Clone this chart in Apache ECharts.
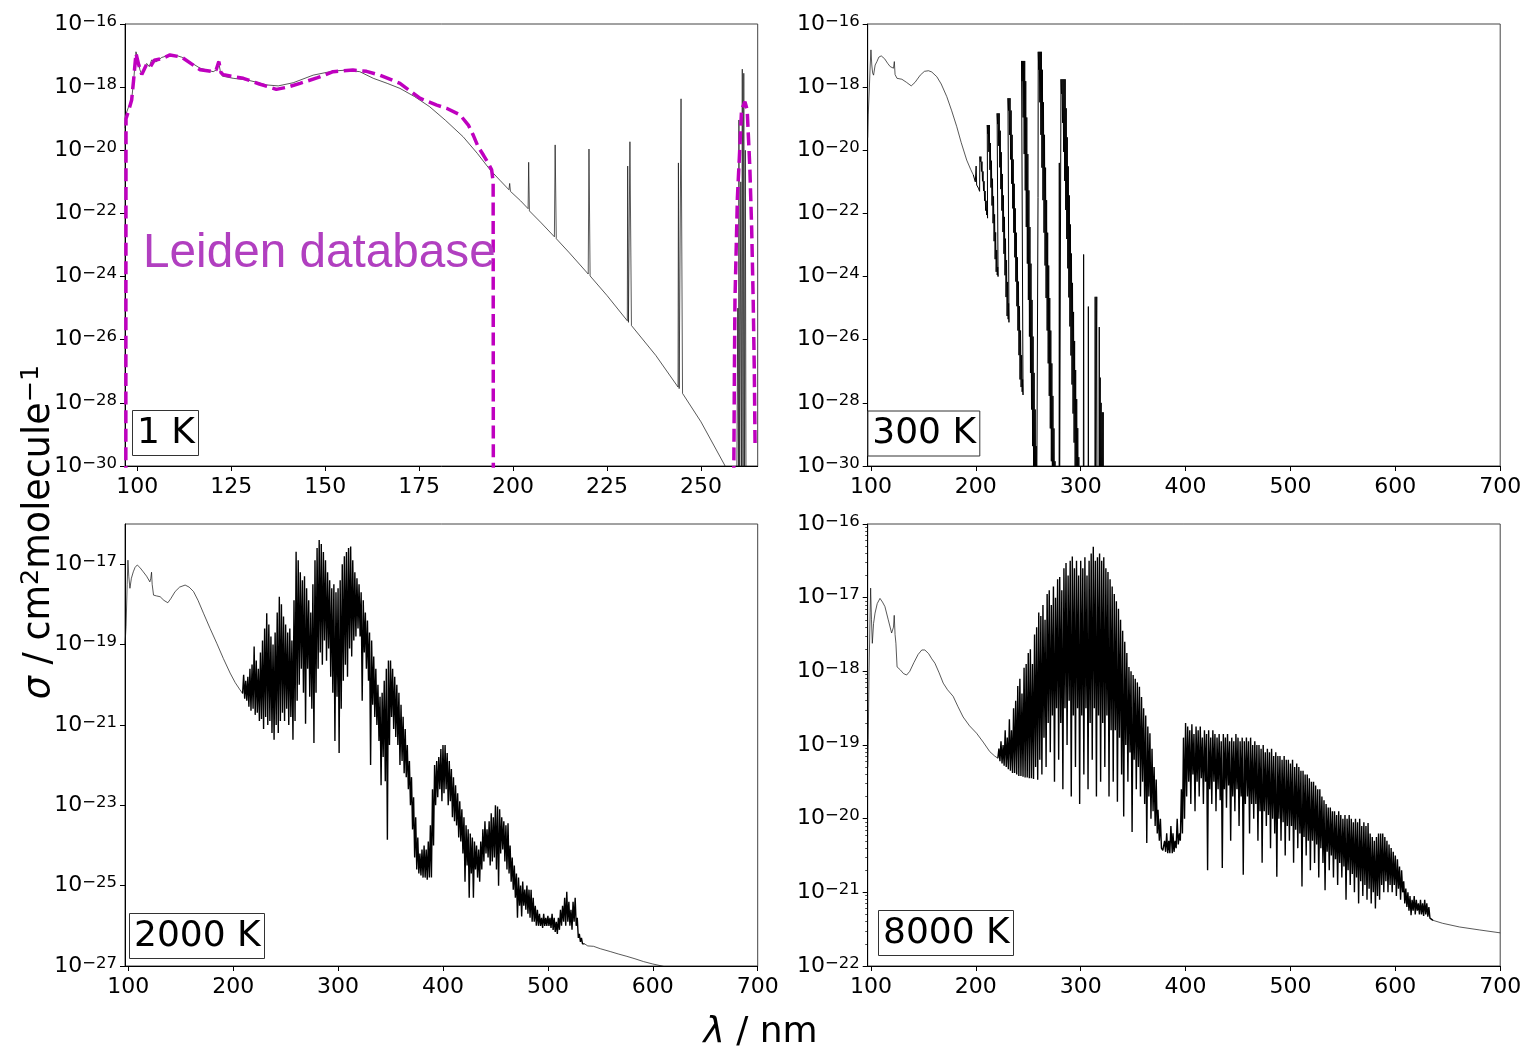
<!DOCTYPE html>
<html><head><meta charset="utf-8">
<script src="https://cdn.jsdelivr.net/npm/echarts@6/dist/echarts.min.js"></script>
<style>html,body{margin:0;padding:0;background:#fff}#c{width:1526px;height:1049px}#err{position:absolute;left:300px;top:300px;color:red;font:14px monospace;white-space:pre-wrap;width:900px}</style>
</head><body><div id="c"></div><div id="err"></div>
<script>
window.onerror = function(m,s,l,c,e){ document.getElementById('err').textContent += 'ERR: '+m+' @'+l+':'+c+'\n'; };
// ---- data: [wavelength nm, log10(sigma / cm^2 molecule^-1)] ----
const K1_LINE = [[96.75,-19.3],[97.0,-18.85],[97.6,-18.65],[98.5,-18.4],[99.1,-17.7],[99.65,-16.88],[100.2,-17.15],[100.7,-17.45],[101.2,-17.6],[101.9,-17.4],[102.5,-17.25],[103.2,-17.35],[103.8,-17.14],[105,-17.2],[106.5,-17.06],[108.7,-16.98],[110.5,-17.0],[111.8,-17.05],[114,-17.2],[116.7,-17.4],[120.2,-17.51],[121.1,-17.45],[121.6,-17.17],[122.1,-17.5],[122.6,-17.65],[125.5,-17.72],[129.1,-17.77],[132,-17.85],[134.4,-17.93],[137.5,-17.96],[141.5,-17.86],[146.8,-17.62],[152.1,-17.49],[155.7,-17.46],[159.2,-17.51],[162.8,-17.72],[166.5,-17.88],[169.9,-18.04],[173.8,-18.3],[177.8,-18.62],[182,-19.05],[186.7,-19.57],[190.5,-20.1],[193.9,-20.62],[196.5,-20.95],[198.9,-21.25],[199.1,-21.05],[199.3,-21.3],[202,-21.6],[204.0,-21.85],[204.15,-20.38],[204.35,-21.92],[207.5,-22.3],[211.0,-22.74],[211.2,-19.83],[211.5,-22.8],[215,-23.25],[220.0,-23.92],[220.2,-19.96],[220.5,-23.98],[225,-24.6],[230.4,-25.4],[230.5,-20.5],[230.7,-25.45],[231.1,-19.73],[231.5,-25.55],[238,-26.5],[243.9,-27.5],[244.0,-20.4],[244.2,-27.55],[244.7,-18.37],[245.1,-27.7],[250,-28.6],[256.3,-29.97],[258,-30.5],[259.5,-31],[259.8,-25],[260.0,-31],[260.1,-19.04],[260.3,-31],[260.6,-21],[260.8,-31],[261.0,-17.43],[261.2,-31],[261.4,-17.56],[261.6,-31],[261.8,-20],[262.0,-31],[265,-31]];
const K1_LEIDEN_A = [[96.95,-31],[96.97,-25],[97.0,-19.0],[97.8,-18.7],[98.5,-18.41],[99.0,-17.8],[99.65,-16.93],[100.4,-17.3],[101.2,-17.6],[102.5,-17.27],[103.5,-17.35],[104.5,-17.15],[106.5,-17.1],[108.7,-16.98],[111.8,-17.05],[116.7,-17.45],[120.2,-17.51],[121.0,-17.45],[121.7,-17.19],[122.3,-17.55],[123,-17.61],[128.2,-17.72],[132.5,-17.9],[137,-18.07],[140,-18.0],[143.3,-17.88],[148,-17.7],[152.1,-17.51],[157.4,-17.46],[161,-17.5],[164.6,-17.62],[169.9,-17.88],[175.2,-18.35],[179.7,-18.57],[182.3,-18.67],[185.9,-18.88],[188.1,-19.2],[189.4,-19.52],[190.7,-19.89],[192.1,-20.15],[193.4,-20.41],[194.3,-20.62],[194.7,-21.0],[194.75,-31]];
const K1_LEIDEN_B = [[258.7,-31],[258.9,-27],[259.05,-24.75],[259.7,-21.5],[260.4,-19.78],[260.8,-18.72],[261.7,-18.46],[262.3,-18.72],[263.0,-20.52],[263.5,-22.5],[263.9,-24.75],[264.2,-27],[264.4,-29.37]];

const K300_SMOOTH = [[96.9,-19.6],[97.4,-18.88],[98.5,-18.0],[99.3,-17.3],[100,-16.82],[100.8,-17.3],[101.6,-17.55],[102.5,-17.62],[104,-17.3],[105.7,-17.19],[107.5,-17.05],[109.8,-17.01],[113,-17.1],[116,-17.25],[118.4,-17.35],[121.5,-17.4],[122.3,-17.19],[123,-17.6],[124.8,-17.72],[129.5,-17.75],[134,-17.85],[138.4,-17.96],[142,-17.85],[147,-17.62],[151,-17.5],[154.9,-17.48],[158,-17.52],[162.8,-17.67],[167,-17.9],[172.3,-18.3],[177,-18.75],[181.8,-19.25],[186,-19.75],[191.3,-20.31],[195,-20.6],[197.6,-20.78]];
// vibrational bands: line peaks alternate between the upper and lower edge of each band's slanted streak
const K300_BANDS = [[197.6,-20.78],[199.5,-21.0],[200.3,-20.5],[200.8,-21.1],[202.5,-21.2],[203.6,-21.3],
[203.85,-20.2],[204.35,-20.36],[204.85,-20.2],[205.35,-20.67],[205.85,-20.36],[206.35,-20.98],[206.85,-20.67],[207.35,-21.29],[207.85,-20.98],[208.35,-21.6],[208.85,-21.29],[209.35,-21.91],[209.85,-21.6],[210.35,-22.05],[210.85,-21.91],[211.2,-22.15],
[210.9,-19.2],[211.4,-19.48],[211.9,-19.2],[212.4,-20.05],[212.9,-19.2],[213.4,-20.62],[213.9,-19.77],[214.4,-21.18],[214.9,-20.33],[215.4,-21.75],[215.9,-20.9],[216.4,-22.31],[216.9,-21.46],[217.4,-22.88],[217.9,-22.03],[218.4,-23.45],[218.9,-22.6],[219.4,-23.85],[219.9,-23.16],[220.4,-23.95],[220.9,-23.7],[221.2,-24.0],
[220.3,-18.83],[220.8,-19.17],[221.3,-18.83],[221.8,-19.86],[222.3,-18.83],[222.8,-20.54],[223.3,-19.38],[223.8,-21.23],[224.3,-20.06],[224.8,-21.91],[225.3,-20.75],[225.8,-22.59],[226.3,-21.43],[226.8,-23.28],[227.3,-22.11],[227.8,-23.96],[228.3,-22.8],[228.8,-24.65],[229.3,-23.48],[229.8,-25.25],[230.3,-24.17],[230.8,-25.35],[231.3,-24.85],[231.6,-25.45],
[230.65,-18.35],[231.15,-18.74],[231.65,-18.35],[232.15,-19.51],[232.65,-18.35],[233.15,-20.29],[233.65,-18.74],[234.15,-21.06],[234.65,-19.51],[235.15,-21.84],[235.65,-20.29],[236.15,-22.61],[236.65,-21.06],[237.15,-23.39],[237.65,-21.84],[238.15,-24.16],[238.65,-22.61],[239.15,-24.94],[239.65,-23.39],[240.15,-25.71],[240.65,-24.16],[241.15,-26.49],[241.65,-24.94],[242.15,-27.26],[242.65,-25.71],[243.15,-27.5],[243.65,-26.49],[244.15,-27.65],[244.65,-27.26],[245.0,-27.75],
[243.6,-17.17],[244.1,-17.81],[244.6,-17.17],[245.1,-18.96],[245.6,-17.17],[246.1,-20.12],[246.6,-17.17],[247.1,-21.27],[247.6,-17.81],[248.1,-22.43],[248.6,-18.96],[249.1,-23.59],[249.6,-20.12],[250.1,-24.74],[250.6,-21.27],[251.1,-25.9],[251.6,-22.43],[252.1,-27.05],[252.6,-23.59],[253.1,-28.21],[253.6,-24.74],[254.1,-29.37],[254.6,-25.9],[255.1,-30.52],[255.6,-27.05],[256.1,-31],[256.6,-28.21],[257.1,-31],[257.6,-29.37],[258.1,-31],
[259.0,-31],[259.3,-21.5],[259.5,-16.88],[260.0,-17.45],[260.5,-16.88],[261.0,-18.48],[261.5,-16.88],[262.0,-19.51],[262.5,-16.88],[263.0,-20.55],[263.5,-17.45],[264.0,-21.58],[264.5,-18.48],[265.0,-22.61],[265.5,-19.51],[266.0,-23.65],[266.5,-20.55],[267.0,-24.68],[267.5,-21.58],[268.0,-25.71],[268.5,-22.61],[269.0,-26.75],[269.5,-23.65],[270.0,-27.78],[270.5,-24.68],[271.0,-28.81],[271.5,-25.71],[272.0,-29.85],[272.5,-26.75],[273.0,-31],[273.5,-27.78],[274.0,-31],[274.5,-28.81],[275.0,-31],[275.5,-29.85],[276.0,-31],
[279.4,-31],[279.6,-20.4],[279.9,-31],
[281.2,-17.75],[281.7,-18.21],[282.2,-17.75],[282.7,-19.13],[283.2,-17.75],[283.7,-20.05],[284.2,-17.75],[284.7,-20.97],[285.2,-17.75],[285.7,-21.89],[286.2,-18.67],[286.7,-22.81],[287.2,-19.59],[287.7,-23.74],[288.2,-20.51],[288.7,-24.66],[289.2,-21.43],[289.7,-25.58],[290.2,-22.35],[290.7,-26.5],[291.2,-23.27],[291.7,-27.42],[292.2,-24.2],[292.7,-28.34],[293.2,-25.12],[293.7,-29.26],[294.2,-26.04],[294.7,-30.18],[295.2,-26.96],[295.7,-31],[296.2,-27.88],[296.7,-31],[297.2,-28.8],[297.7,-31],[298.2,-29.72],[298.7,-31],
[302.5,-31],[302.8,-23.3],[303.1,-31],[307.1,-31],[307.3,-24.95],[307.5,-31],[313.6,-31],[313.8,-24.64],[314.0,-31],[315.1,-31],[315.3,-24.64],[315.5,-31],[317.5,-31],[317.7,-25.6],[317.9,-31],[318.4,-31],[318.6,-27.2],[318.8,-31],[319.3,-31],[319.5,-28.0],[319.7,-31],[320.3,-31],[320.5,-28.3],[320.7,-31],[321.3,-31],[321.5,-28.3],[321.7,-31],[330,-31]];

const K2000_START = [[96.9,-19.0],[97.9,-18.55],[99.0,-17.5],[99.7,-16.9],[100.5,-17.3],[101.6,-17.6],[103,-17.35],[104.8,-17.19],[106.5,-17.08],[108.6,-17.02],[111,-17.08],[114.3,-17.19],[117.5,-17.3],[120.6,-17.44],[121.5,-17.35],[122.2,-17.2],[122.8,-17.5],[124.1,-17.77],[127,-17.79],[130.4,-17.81],[134,-17.9],[137.7,-17.96],[140.5,-17.86],[144.7,-17.68],[149,-17.57],[154.2,-17.52],[158,-17.57],[162.2,-17.68],[166.5,-17.9],[171.7,-18.22],[178,-18.6],[184.4,-18.97],[190.7,-19.35],[197.1,-19.71],[202,-19.95],[206.6,-20.13],[209,-20.22]];
// dense region: pairs [upper, lower] at 2 nm steps (upper at the even nm, lower at the next nm)
const K2000_DENSE_START = 210;
const K2000_DENSE = [[-19.75,-20.35],[-19.9,-20.4],[-19.8,-20.55],[-19.6,-20.65],[-19.5,-20.6],[-19.05,-20.75],[-19.4,-20.7],[-19.6,-20.9],[-19.2,-20.85],[-18.9,-21.1],[-18.6,-20.8],[-18.22,-21.0],[-18.5,-20.9],[-18.8,-21.2],[-19.0,-21.37],[-18.7,-21.0],[-18.2,-21.2],[-17.81,-20.9],[-18.0,-20.7],[-18.3,-20.9],[-18.5,-20.6],[-18.7,-21.0],[-18.6,-20.8],[-18.9,-21.37],[-17.9,-20.9],[-16.69,-20.4],[-16.9,-20.0],[-17.2,-19.6],[-17.4,-20.2],[-17.3,-20.97],[-17.6,-19.6],[-17.9,-20.3],[-18.2,-20.6],[-17.5,-21.45],[-16.9,-20.2],[-16.6,-19.6],[-16.4,-19.2],[-16.5,-19.5],[-16.7,-18.9],[-16.9,-19.4],[-17.2,-19.1],[-17.4,-19.8],[-17.6,-20.2],[-17.5,-21.4],[-17.7,-20.3],[-17.6,-21.7],[-17.4,-20.6],[-17.0,-19.9],[-16.8,-19.5],[-16.7,-19.8],[-16.6,-19.1],[-16.56,-19.3],[-16.9,-18.9],[-17.2,-18.8],[-17.35,-18.6],[-17.5,-18.8],[-17.7,-20.4],[-17.9,-19.2],[-18.2,-19.6],[-18.4,-19.9],[-18.7,-22.0],[-18.9,-20.5],[-19.3,-20.8],[-19.6,-21.0],[-20.0,-21.4],[-20.3,-22.5],[-20.2,-21.8],[-19.9,-22.4],[-19.6,-23.86],[-19.4,-21.5],[-19.4,-20.8],[-19.6,-21.1],[-19.8,-21.3],[-20.0,-21.5],[-20.2,-22.0],[-20.5,-21.9],[-20.8,-22.2],[-21.1,-22.3],[-21.5,-22.6],[-21.9,-23.0],[-22.3,-23.6],[-22.8,-24.3],[-23.3,-24.6],[-23.8,-24.7],[-24.2,-24.75],[-24.1,-24.8],[-24.0,-24.8],[-24.1,-24.85],[-23.9,-24.8],[-23.5,-24.8],[-22.6,-24.0],[-22.0,-23.0],[-21.9,-22.8],[-21.8,-22.6],[-21.6,-22.9],[-21.5,-22.7],[-21.5,-22.6],[-21.7,-23.0],[-21.9,-22.9],[-22.1,-23.3],[-22.3,-23.4],[-22.5,-23.5],[-22.7,-23.8],[-22.9,-23.9],[-23.1,-24.2],[-23.3,-24.9],[-23.5,-24.5],[-23.6,-25.3],[-23.7,-24.7],[-23.8,-25.3],[-23.9,-24.6],[-24.0,-24.8],[-24.1,-24.9],[-23.9,-24.6],[-23.6,-24.4],[-23.4,-24.2],[-23.6,-24.3],[-23.4,-24.5],[-23.2,-24.4],[-23.3,-24.3],[-23.0,-24.6],[-23.03,-25.0],[-23.1,-24.2],[-23.3,-24.1],[-23.4,-24.4],[-23.5,-24.6],[-23.45,-24.7],[-24.0,-24.9],[-24.3,-25.1],[-24.5,-25.3],[-24.7,-25.8],[-24.8,-25.5],[-25.0,-25.77],[-24.9,-25.5],[-25.1,-25.6],[-25.0,-25.7],[-25.1,-25.8],[-25.1,-25.9],[-25.3,-25.9],[-25.5,-26.0],[-25.6,-26.0],[-25.7,-26.0],[-25.8,-26.05],[-25.7,-26.0],[-25.8,-26.0],[-25.75,-26.0],[-25.8,-26.05],[-25.7,-26.1],[-25.8,-26.15],[-25.9,-26.2],[-25.8,-26.1],[-25.6,-26.0],[-25.5,-25.9],[-25.3,-26.0],[-25.15,-25.9],[-25.4,-26.0],[-25.6,-26.1],[-25.4,-25.9],[-25.3,-26.0],[-25.8,-26.3],[-26.2,-26.4],[-26.3,-26.45]];
const K2000_TAIL = [[535,-26.45],[538,-26.5],[543.5,-26.51],[550,-26.57],[559.4,-26.64],[567,-26.7],[575.3,-26.76],[583,-26.82],[591.2,-26.89],[600,-26.95],[608.7,-27.0],[620,-27.08],[650,-27.25],[700,-27.5]];

const K8000_START = [[96.95,-19.3],[97.4,-18.93],[98.2,-18.0],[99.2,-17.2],[99.7,-16.87],[100.5,-17.3],[101.3,-17.62],[102.5,-17.35],[103.9,-17.21],[106,-17.08],[108.6,-17.01],[111,-17.06],[113.3,-17.12],[116.5,-17.3],[119.7,-17.48],[121.5,-17.4],[122.2,-17.24],[123,-17.5],[123.8,-17.62],[124.4,-17.62],[124.9,-17.94],[128,-17.98],[131,-18.03],[134,-18.05],[137,-18.0],[141,-17.88],[145,-17.77],[148.5,-17.71],[151.4,-17.71],[155,-17.76],[158,-17.83],[161,-17.89],[165,-18.02],[168.9,-18.16],[173,-18.25],[178.4,-18.34],[183,-18.48],[187.9,-18.62],[194,-18.74],[200.7,-18.84],[207,-18.96],[213.3,-19.09],[218,-19.15],[221,-19.18]];
const K8000_DENSE1_START = 222;
const K8000_DENSE1 = [[-19.05,-19.22],[-18.95,-19.25],[-19.0,-19.28],[-18.8,-19.3],[-18.9,-19.33],[-18.65,-19.35],[-18.8,-19.38],[-18.5,-19.38],[-18.4,-19.4],[-18.2,-19.42],[-18.1,-19.42],[-18.3,-19.43],[-17.95,-19.44],[-17.9,-19.44],[-17.75,-19.45],[-17.7,-19.45],[-17.9,-19.46],[-17.5,-19.3],[-17.4,-19.47],[-17.2,-19.2],[-17.25,-19.4],[-17.1,-18.9],[-17.3,-19.3],[-16.95,-18.7],[-16.9,-19.1],[-17.1,-18.6],[-16.85,-19.5],[-17.0,-18.5],[-16.75,-19.2],[-16.72,-18.7],[-16.9,-19.6],[-16.6,-18.5],[-16.53,-19.0],[-16.7,-18.4],[-16.5,-19.7],[-16.44,-18.6],[-16.6,-19.3],[-16.5,-18.5],[-16.7,-19.8],[-16.5,-18.6],[-16.6,-19.4],[-16.45,-18.5],[-16.7,-19.6],[-16.5,-18.7],[-16.4,-19.2],[-16.31,-18.5],[-16.5,-19.7],[-16.45,-18.6],[-16.4,-19.5],[-16.5,-18.7],[-16.45,-19.3],[-16.6,-18.6],[-16.65,-19.7],[-16.75,-18.8],[-16.85,-19.5],[-16.95,-18.8],[-17.05,-19.77],[-17.15,-18.9],[-17.3,-19.4],[-17.45,-19.97],[-17.6,-19.0],[-17.75,-19.5],[-17.94,-19.1],[-18.0,-20.18],[-18.05,-19.2],[-18.1,-19.6],[-18.15,-19.3],[-18.21,-19.7],[-18.35,-19.5],[-18.5,-19.8],[-18.6,-20.33],[-18.75,-19.7],[-18.84,-20.0],[-19.05,-19.9],[-19.3,-20.1],[-19.47,-20.2]];
const K8000_GAP = [[373.7,-19.88],[375,-20.3],[376,-20.0],[377,-20.4],[378.3,-20.43],[380,-20.3],[381,-20.45],[382,-20.2],[383,-20.47],[384,-20.3],[385,-20.47],[386,-20.1],[387.3,-20.47],[388,-20.2],[389,-20.45],[390,-20.3],[391,-20.4],[392,-20.0],[393,-20.35],[394.2,-20.2],[395,-20.3]];
const K8000_DENSE2_START = 396;
const K8000_DENSE2 = [[-19.6,-20.2],[-18.9,-20.0],[-18.7,-19.7],[-18.75,-19.5],[-18.8,-19.8],[-18.72,-19.4],[-18.85,-19.9],[-18.75,-19.5],[-18.8,-19.7],[-18.75,-19.45],[-18.9,-19.8],[-18.8,-19.5],[-18.85,-20.7],[-18.8,-19.6],[-18.9,-19.8],[-18.8,-19.5],[-18.85,-19.9],[-18.9,-19.6],[-18.85,-19.75],[-18.95,-20.67],[-18.85,-19.6],[-18.9,-19.85],[-18.85,-19.55],[-18.95,-20.3],[-18.9,-19.7],[-18.95,-19.9],[-18.85,-19.6],[-18.9,-20.1],[-18.95,-19.7],[-18.9,-20.76],[-18.95,-19.8],[-18.9,-19.7],[-18.95,-20.2],[-18.9,-19.8],[-19.0,-20.0],[-18.95,-19.8],[-19.0,-20.3],[-19.0,-19.9],[-19.05,-20.6],[-19.0,-19.9],[-19.1,-20.1],[-19.05,-19.95],[-19.1,-20.4],[-19.05,-20.0],[-19.15,-20.2],[-19.1,-20.79],[-19.15,-20.0],[-19.15,-20.3],[-19.2,-20.05],[-19.15,-20.5],[-19.2,-20.1],[-19.2,-20.3],[-19.25,-20.1],[-19.2,-20.6],[-19.3,-20.15],[-19.25,-20.4],[-19.3,-20.2],[-19.35,-20.92],[-19.35,-20.25],[-19.4,-20.5],[-19.4,-20.3],[-19.45,-20.7],[-19.5,-20.3],[-19.5,-20.6],[-19.55,-20.35],[-19.6,-20.8],[-19.6,-20.4],[-19.7,-20.6],[-19.75,-20.97],[-19.8,-20.45],[-19.85,-20.7],[-19.85,-20.5],[-19.9,-20.8],[-19.9,-20.55],[-19.95,-20.9],[-19.9,-20.6],[-19.95,-20.8],[-20.0,-20.65],[-19.95,-21.1],[-20.0,-20.7],[-19.95,-20.9],[-20.0,-20.75],[-20.05,-21.0],[-20.0,-20.8],[-20.05,-21.15],[-20.0,-20.85],[-20.1,-21.05],[-20.05,-20.9],[-20.1,-21.1],[-20.06,-20.95],[-20.2,-21.15],[-20.25,-21.0],[-20.3,-21.22],[-20.25,-21.05],[-20.2,-21.1],[-20.2,-20.9],[-20.2,-21.0],[-20.25,-20.85],[-20.3,-21.0],[-20.35,-20.9],[-20.4,-21.0],[-20.45,-20.9],[-20.5,-21.05],[-20.55,-20.95],[-20.65,-21.1],[-20.7,-21.0],[-20.85,-21.15],[-20.95,-21.2],[-21.0,-21.25],[-21.05,-21.31],[-21.1,-21.25],[-21.05,-21.3],[-21.1,-21.25],[-21.15,-21.3],[-21.1,-21.3],[-21.15,-21.32],[-21.1,-21.3],[-21.15,-21.33],[-21.2,-21.35]];
const K8000_TAIL = [[635.9,-21.38],[645,-21.42],[661.1,-21.47],[680,-21.51],[700,-21.55]];

// ---- axes ----
const X_TICKS_1K = [100,125,150,175,200,225,250];
const X_TICKS = [100,200,300,400,500,600,700];
const Y_RANGES = [[-30,-16],[-30,-16],[-27,-16],[-22,-16]];
const Y_STEPS = [2,2,2,1];
const PANEL_LABELS = ['1 K','300 K','2000 K','8000 K'];

// ---- build ----
const OFF = Y_RANGES.map(r => r[0]);            // axis unit = 10^(lowest decade) of each panel
const P = (e, i) => Math.pow(10, e - OFF[i]);
const pts = (list, i) => list.map(p => [p[0], P(p[1], i)]);
function dense(start, pairs, i){ const out=[]; pairs.forEach((p,k)=>{ out.push([start+2*k, P(p[0],i)]); out.push([start+2*k+1, P(p[1],i)]); }); return out; }
const brk = x => [[x, '-']];
const last = a => [a[a.length-1]], first = a => [a[0]];

const FONT = 'DejaVu Sans';
const grids = [
  {left:125, top:24, width:632.7, height:442},
  {left:867.7, top:24, width:632.5, height:442},
  {left:125, top:524, width:632.7, height:442},
  {left:867.7, top:524, width:632.5, height:442}
].map(g => Object.assign(g, {show:true, borderColor:'#444', borderWidth:1, backgroundColor:'rgba(0,0,0,0)'}));

function xAx(i, min, max, ticks){
  return {type:'value', gridIndex:i, min, max, splitLine:{show:false},
    axisLine:{show:true, onZero:false, lineStyle:{color:'#000', width:1}},
    axisTick:{show:true, length:5, customValues:ticks, lineStyle:{color:'#000'}},
    axisLabel:{customValues:ticks, fontSize:22, fontFamily:FONT, color:'#000', margin:10, hideOverlap:false}};
}
const yRich = {b:{fontSize:22, fontFamily:FONT, color:'#000', lineHeight:22, verticalAlign:'bottom'},
               s:{fontSize:16.5, fontFamily:FONT, color:'#000', lineHeight:14, verticalAlign:'top'}};
function yAx(i){
  const r = Y_RANGES[i];
  return {type:'log', logBase:10, gridIndex:i, min:P(r[0],i), max:P(r[1],i), interval:Y_STEPS[i], splitLine:{show:false},
    axisLine:{show:true, onZero:false, lineStyle:{color:'#000', width:1}},
    axisTick:{show:true, length:5, lineStyle:{color:'#000'}},
    minorTick:{show:(i===3), splitNumber:9, length:2.5, lineStyle:{color:'#000', width:0.7}},
    axisLabel:{fontSize:22, fontFamily:FONT, color:'#000', margin:8, showMaxLabel:(i!==2), hideOverlap:false,
      formatter: v => { const e = Math.round(Math.log10(v)) + OFF[i]; return '{b|10}{s|\u2212' + Math.abs(e) + '}'; }, rich:yRich}};
}

const thin = {type:'line', showSymbol:false, symbol:'none', animation:false, clip:true, z:2, lineStyle:{color:'#111', width:0.7}};
const thick = (w) => ({type:'line', showSymbol:false, symbol:'none', animation:false, clip:true, z:2, lineStyle:{color:'#000', width:w}});
const S = (style, extra) => Object.assign({}, style, extra);

const option = {
  animation:false,
  backgroundColor:'#fff',
  grid:grids,
  xAxis:[xAx(0,96.73,265.1,X_TICKS_1K), xAx(1,96.9,700,X_TICKS), xAx(2,96.9,700,X_TICKS), xAx(3,96.9,700,X_TICKS)],
  yAxis:[yAx(0), yAx(1), yAx(2), yAx(3)],
  title: PANEL_LABELS.map((t,i) => ({text:t,
    left:[132,867.3,129,878][i], top:[410,410.5,913,910][i],
    padding:[3,4,2,5], borderColor:'#333', borderWidth:1,
    textStyle:{fontSize:36, fontWeight:'normal', fontFamily:FONT, color:'#000', lineHeight:41}})),
  series:[
    S(thin, {name:'1 K', xAxisIndex:0, yAxisIndex:0, data:pts(K1_LINE,0)}),
    {type:'line', name:'Leiden database', xAxisIndex:0, yAxisIndex:0,
      data:pts(K1_LEIDEN_A,0).concat(brk(230), pts(K1_LEIDEN_B,0)),
      showSymbol:false, symbol:'none', connectNulls:false, clip:true, z:3,
      lineStyle:{color:'#bf00bf', width:3.5, type:[13,5.6]}},
    S(thin, {name:'300 K', xAxisIndex:1, yAxisIndex:1, data:pts(K300_SMOOTH,1)}),
    S(thick(1.0), {name:'300 K bands', xAxisIndex:1, yAxisIndex:1, data:pts(K300_BANDS,1)}),
    S(thin, {name:'2000 K', xAxisIndex:2, yAxisIndex:2, data:pts(K2000_START,2).concat(brk(400), pts(K2000_TAIL,2))}),
    S(thick(1.4), {name:'2000 K bands', xAxisIndex:2, yAxisIndex:2,
      data:pts(last(K2000_START),2).concat(dense(K2000_DENSE_START, K2000_DENSE,2), pts(first(K2000_TAIL),2))}),
    S(thin, {name:'8000 K', xAxisIndex:3, yAxisIndex:3, data:pts(K8000_START,3).concat(brk(400), pts(K8000_TAIL,3))}),
    S(thick(1.4), {name:'8000 K bands', xAxisIndex:3, yAxisIndex:3,
      data:pts(last(K8000_START),3).concat(dense(K8000_DENSE1_START, K8000_DENSE1,3), pts(K8000_GAP,3), dense(K8000_DENSE2_START, K8000_DENSE2,3), pts(first(K8000_TAIL),3))})
  ],
  graphic:[
    {type:'text', x:143, y:254, z:10, style:{text:'Leiden database', fontSize:47.7, fontFamily:'Liberation Sans', fill:'#b13fc0', align:'left', verticalAlign:'middle'}},
    {type:'text', x:38, y:532, rotation:Math.PI/2, z:10, style:{
      text:'{i|\u03c3}{n| / cm}{s|2}{n|molecule}{s|\u22121}', align:'center', verticalAlign:'middle',
      rich:{i:{fontSize:36.5, fontStyle:'italic', fontFamily:FONT, fill:'#000', lineHeight:40, verticalAlign:'bottom'},
            n:{fontSize:36.5, fontFamily:FONT, fill:'#000', lineHeight:40, verticalAlign:'bottom'},
            s:{fontSize:25.5, fontFamily:FONT, fill:'#000', lineHeight:22, verticalAlign:'top'}}}},
    {type:'text', x:760.5, y:1033, z:10, style:{
      text:'{i|\u03bb}{n| / nm}', align:'center', verticalAlign:'middle',
      rich:{i:{fontSize:36, fontStyle:'italic', fontFamily:FONT, fill:'#000'}, n:{fontSize:36, fontFamily:FONT, fill:'#000'}}}}
  ]
};
try {
  const chart = echarts.init(document.getElementById('c'), null, {renderer:'canvas'});
  chart.setOption(option);
} catch (e) { document.getElementById('err').textContent += 'CATCH: ' + e.message; }
</script>
</body></html>
